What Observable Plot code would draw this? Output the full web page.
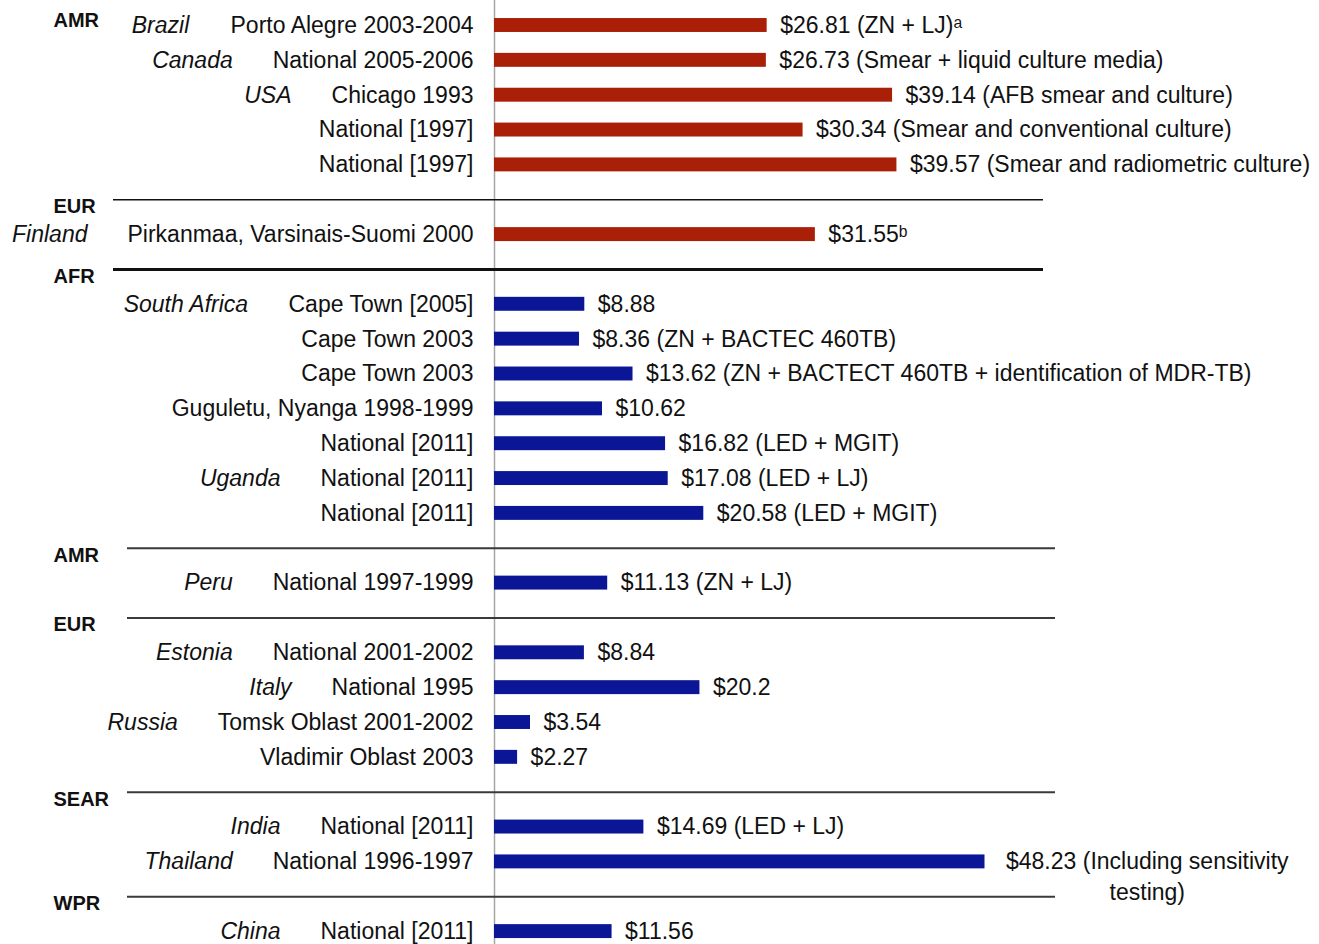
<!DOCTYPE html>
<html>
<head>
<meta charset="utf-8">
<script src="https://cdn.jsdelivr.net/npm/d3@7"></script>
<script src="https://cdn.jsdelivr.net/npm/@observablehq/plot@0.6"></script>
<style>
  html, body { margin: 0; padding: 0; background: #ffffff; }
  #chart { width: 1319px; height: 944px; }
</style>
</head>
<body>
<div id="chart"></div>
<script>
// ---- Data ----
const regions = ["AMR","AMR","AMR","AMR","AMR","EUR","AFR","AFR","AFR","AFR","AFR","AFR","AFR","AMR","EUR","EUR","EUR","EUR","SEAR","SEAR","WPR"];
const incomeGroup = ["high","high","high","high","high","high","low","low","low","low","low","low","low","low","low","low","low","low","low","low","low"];
const countries = ["Brazil","Canada","USA","","","Finland","South Africa","","","","","Uganda","","Peru","Estonia","Italy","Russia","","India","Thailand","China"];
const sites = [
  "Porto Alegre 2003-2004","National 2005-2006","Chicago 1993","National [1997]","National [1997]",
  "Pirkanmaa, Varsinais-Suomi 2000",
  "Cape Town [2005]","Cape Town 2003","Cape Town 2003","Guguletu, Nyanga 1998-1999","National [2011]","National [2011]","National [2011]",
  "National 1997-1999",
  "National 2001-2002","National 1995","Tomsk Oblast 2001-2002","Vladimir Oblast 2003",
  "National [2011]","National 1996-1997",
  "National [2011]"
];
const costs = [26.81,26.73,39.14,30.34,39.57,31.55,8.88,8.36,13.62,10.62,16.82,17.08,20.58,11.13,8.84,20.2,3.54,2.27,14.69,48.23,11.56];
const notes = [
  " (ZN + LJ)\u1D43"," (Smear + liquid culture media)"," (AFB smear and culture)"," (Smear and conventional culture)"," (Smear and radiometric culture)",
  "\u1D47",
  ""," (ZN + BACTEC 460TB)"," (ZN + BACTECT 460TB + identification of MDR-TB)",""," (LED + MGIT)"," (LED + LJ)"," (LED + MGIT)",
  " (ZN + LJ)",
  "","","","",
  " (LED + LJ)"," (Including sensitivity\ntesting)",
  ""
];

// ---- Styles / layout ----
const FONT = "'Liberation Sans', Arial, Helvetica, sans-serif";
const FS = 23;
const colors = {high: "#aa1f08", low: "#0b1696"};
const X0 = 494, PX_PER_DOLLAR = 10.17;
const Y0 = 25, SLOT = 34.85;

// Build rows with slot positions (one empty slot inserted at each region change)
const rows = [];
const seps = [];
const headers = [];
let slot = 0;
for (let i = 0; i < costs.length; i++) {
  if (i === 0) {
    headers.push({slot: 0, region: regions[0], first: true});
  } else if (regions[i] !== regions[i - 1]) {
    seps.push({slot, thick: incomeGroup[i] !== incomeGroup[i - 1], group: incomeGroup[i - 1]});
    headers.push({slot, region: regions[i], first: false});
    slot++;
  }
  rows.push({slot, region: regions[i], group: incomeGroup[i], country: countries[i], site: sites[i], cost: costs[i],
             label: "$" + costs[i] + notes[i]});
  slot++;
}
const maxSlot = slot - 1;

const ctx = document.createElement("canvas").getContext("2d");
function textWidth(s, font) { ctx.font = font; return Math.max(...s.split("\n").map(t => ctx.measureText(t).width)); }

const xRange = [X0, X0 + d3.max(costs) * PX_PER_DOLLAR];
const pxToX = px => (px - X0) / PX_PER_DOLLAR;

const single = rows.filter(d => !d.label.includes("\n"));
const multi = rows.filter(d => d.label.includes("\n"));

const marks = [
  Plot.ruleX([0], {stroke: "#a6a6a6", strokeWidth: 1.5}),
  Plot.ruleY(seps.filter(s => s.group === "high"), {
    y: "slot", x1: () => pxToX(113), x2: () => pxToX(1043),
    stroke: "#111", strokeWidth: d => d.thick ? 3 : 1.5
  }),
  Plot.ruleY(seps.filter(s => s.group !== "high"), {
    y: "slot", x1: () => pxToX(127), x2: () => pxToX(1055),
    stroke: "#3a3a3a", strokeWidth: 2
  }),
  Plot.rect(rows, {
    x1: 0, x2: "cost",
    y1: d => d.slot - 0.2, y2: d => d.slot + 0.2,
    fill: d => colors[d.group]
  }),
  Plot.text(rows, {
    x: 0, y: "slot", text: "site", textAnchor: "end", dx: -21,
    fontSize: FS, fill: "#111"
  }),
  ...rows.filter(d => d.country).map(d => Plot.text([d], {
    x: 0, y: "slot", text: "country", textAnchor: "end",
    dx: -(21 + textWidth(d.site, `${FS}px ${FONT}`) + 40),
    fontSize: FS, fontStyle: "italic", fill: "#111"
  })),
  Plot.text(single, {
    x: "cost", y: "slot", text: "label", textAnchor: "start", dx: 13,
    fontSize: FS, fill: "#111"
  }),
  ...multi.map(d => Plot.text([d], {
    x: "cost", y: "slot", text: "label", textAnchor: "middle",
    dx: 21 + textWidth(d.label, `${FS}px ${FONT}`) / 2, dy: 13, lineHeight: 1.35,
    fontSize: FS, fill: "#111"
  })),
  Plot.text(headers, {
    frameAnchor: "left", y: "slot", text: "region", textAnchor: "start",
    dx: 53, dy: d => 0, fontSize: 20, fontWeight: "bold", fill: "#111"
  })
];

// region labels: first sits beside first row (slightly up), the others just below their separator
marks.pop();
marks.push(
  Plot.text(headers.filter(h => h.first), {
    frameAnchor: "left", y: "slot", text: "region", textAnchor: "start",
    dx: 53, dy: -5, fontSize: 20, fontWeight: "bold", fill: "#111"
  }),
  Plot.text(headers.filter(h => !h.first), {
    frameAnchor: "left", y: "slot", text: "region", textAnchor: "start",
    dx: 53, dy: 7, fontSize: 20, fontWeight: "bold", fill: "#111"
  })
);

const chart = Plot.plot({
  width: 1319,
  height: 944,
  margin: 0,
  style: {fontFamily: FONT, background: "#ffffff", overflow: "visible"},
  x: {domain: [0, d3.max(costs)], range: xRange, axis: null},
  y: {domain: [0, maxSlot], range: [Y0, Y0 + maxSlot * SLOT], axis: null},
  color: {type: "identity"},
  marks
});
document.getElementById("chart").appendChild(chart);
</script>
</body>
</html>
